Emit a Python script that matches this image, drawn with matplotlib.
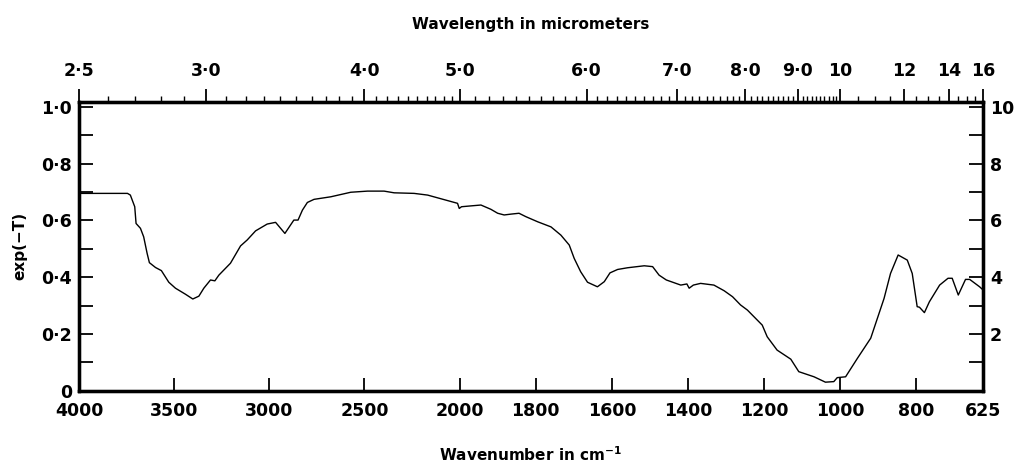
import numpy as np
from matplotlib import pyplot as plt

# spectrum: wavenumber (cm-1) and exp(-T)
wavenumber = [4000, 3745, 3730, 3707, 3700, 3677, 3660, 3642, 3630, 3598, 3567, 3528,
              3493, 3441, 3402, 3370, 3344, 3309, 3286, 3265, 3204, 3151, 3116, 3072,
              3011, 2967, 2918, 2871, 2849, 2826, 2800, 2765, 2677, 2572, 2484, 2397,
              2344, 2239, 2168, 2011, 2002, 1995, 1970, 1944, 1918, 1900, 1883, 1865,
              1844, 1826, 1795, 1760, 1734, 1712, 1699, 1682, 1664, 1638, 1620, 1605,
              1585, 1559, 1515, 1493, 1476, 1457, 1419, 1403, 1397, 1386, 1367, 1332,
              1305, 1283, 1262, 1244, 1205, 1192, 1166, 1130, 1109, 1069, 1039, 1017,
              1008, 986, 955, 920, 885, 868, 848, 824, 811, 798, 792, 779, 766, 739,
              717, 706, 690, 671, 660, 634, 625]
trans = [0.695, 0.695, 0.689, 0.648, 0.589, 0.572, 0.542, 0.484, 0.451, 0.434, 0.423, 0.382,
         0.361, 0.340, 0.323, 0.333, 0.361, 0.390, 0.387, 0.407, 0.449, 0.510, 0.531, 0.563,
         0.587, 0.593, 0.554, 0.601, 0.601, 0.636, 0.663, 0.674, 0.683, 0.699, 0.703, 0.703,
         0.697, 0.695, 0.689, 0.660, 0.642, 0.648, 0.651, 0.654, 0.639, 0.625, 0.619, 0.622,
         0.625, 0.613, 0.595, 0.577, 0.548, 0.513, 0.466, 0.419, 0.382, 0.366, 0.384, 0.415,
         0.427, 0.433, 0.440, 0.437, 0.407, 0.390, 0.372, 0.376, 0.361, 0.372, 0.378, 0.372,
         0.352, 0.331, 0.302, 0.284, 0.231, 0.190, 0.143, 0.111, 0.067, 0.049, 0.030, 0.032,
         0.046, 0.049, 0.114, 0.185, 0.325, 0.413, 0.478, 0.460, 0.413, 0.296, 0.294, 0.275,
         0.313, 0.372, 0.396, 0.396, 0.337, 0.392, 0.392, 0.366, 0.355]

wn_ticks = [4000, 3500, 3000, 2500, 2000, 1800, 1600, 1400, 1200, 1000, 800, 625]
um_major = [2.5, 3.0, 4.0, 5.0, 6.0, 7.0, 8.0, 9.0, 10, 12, 14, 16]
um_labels = ["2·5", "3·0", "4·0", "5·0", "6·0", "7·0", "8·0", "9·0", "10", "12", "14", "16"]
left_ticks = [0, 0.2, 0.4, 0.6, 0.8, 1.0]
left_labels = ["0", "0·2", "0·4", "0·6", "0·8", "1·0"]
right_labels = ["", "2", "", "4", "", "6", "", "8", "", "10"]


# IR chart scale: half scale above 2000 cm-1
def fwd(w):
    w = np.asarray(w, dtype=float)
    return np.where(w >= 2000, w / 2.0, w - 1000.0)


def inv(u):
    u = np.asarray(u, dtype=float)
    return np.where(u >= 1000, u * 2.0, u + 1000.0)


plt.rcParams['font.family'] = 'DejaVu Sans'
plt.rcParams['font.weight'] = 'bold'
plt.rcParams['axes.labelweight'] = 'bold'
plt.rcParams['mathtext.default'] = 'bf'

fig = plt.figure(figsize=(10.15, 4.71), dpi=100)
ax = fig.add_axes([0.0778, 0.1705, 0.8907, 0.6136])
ax.set_xscale('function', functions=(fwd, inv))
ax.plot(wavenumber, trans, color='black', lw=1.0)
ax.set_xlim(4000, 625)
ax.set_ylim(0, 1.018)

for s in ax.spines.values():
    s.set_linewidth(2.3)

ax.set_xticks(wn_ticks)
ax.set_xticklabels([str(w) for w in wn_ticks])
ax.set_xticks([], minor=True)
ax.tick_params(axis='x', direction='in', length=9.5, width=1.3, pad=8, labelsize=12.5)

ax.set_yticks(left_ticks)
ax.set_yticklabels(left_labels)
ax.set_yticks(np.arange(0.1, 1.0, 0.2), minor=True)
ax.tick_params(axis='y', which='both', direction='in', length=10, width=1.3, pad=5, labelsize=12.5)

ax.set_xlabel("Wavenumber in cm$^{-1}$", fontsize=11, labelpad=18)
ax.set_ylabel("exp(−T)", fontsize=11, labelpad=10)

# right hand scale 0-10
axr = ax.twinx()
axr.set_ylim(0, 10.18)
axr.set_yticks(range(1, 11))
axr.set_yticklabels(right_labels)
axr.tick_params(axis='y', direction='in', length=10, width=1.3, pad=5, labelsize=12.5)

# top scale, wavelength in micrometers
axt = ax.twiny()
axt.set_xscale('function', functions=(fwd, inv))
axt.set_xlim(4000, 625)
axt.set_xticks([1e4 / l for l in um_major])
axt.set_xticklabels(um_labels)
um_minor = list(np.arange(2.6, 10.0, 0.1)) + [10.5, 11, 11.5, 12.5, 13, 13.5, 14.5, 15, 15.5]
um_minor = [l for l in um_minor if min(abs(l - m) for m in um_major) > 0.01]
axt.set_xticks([1e4 / l for l in um_minor], minor=True)
axt.tick_params(axis='x', which='major', direction='out', length=9.5, width=1.3, pad=6, labelsize=12.5)
axt.tick_params(axis='x', which='minor', direction='out', length=4, width=1.0)
axt.set_xlabel("Wavelength in micrometers", fontsize=11, labelpad=24)
for a in (axr, axt):
    for s in a.spines.values():
        s.set_linewidth(2.3)

fig.savefig("out.png", dpi=100)
